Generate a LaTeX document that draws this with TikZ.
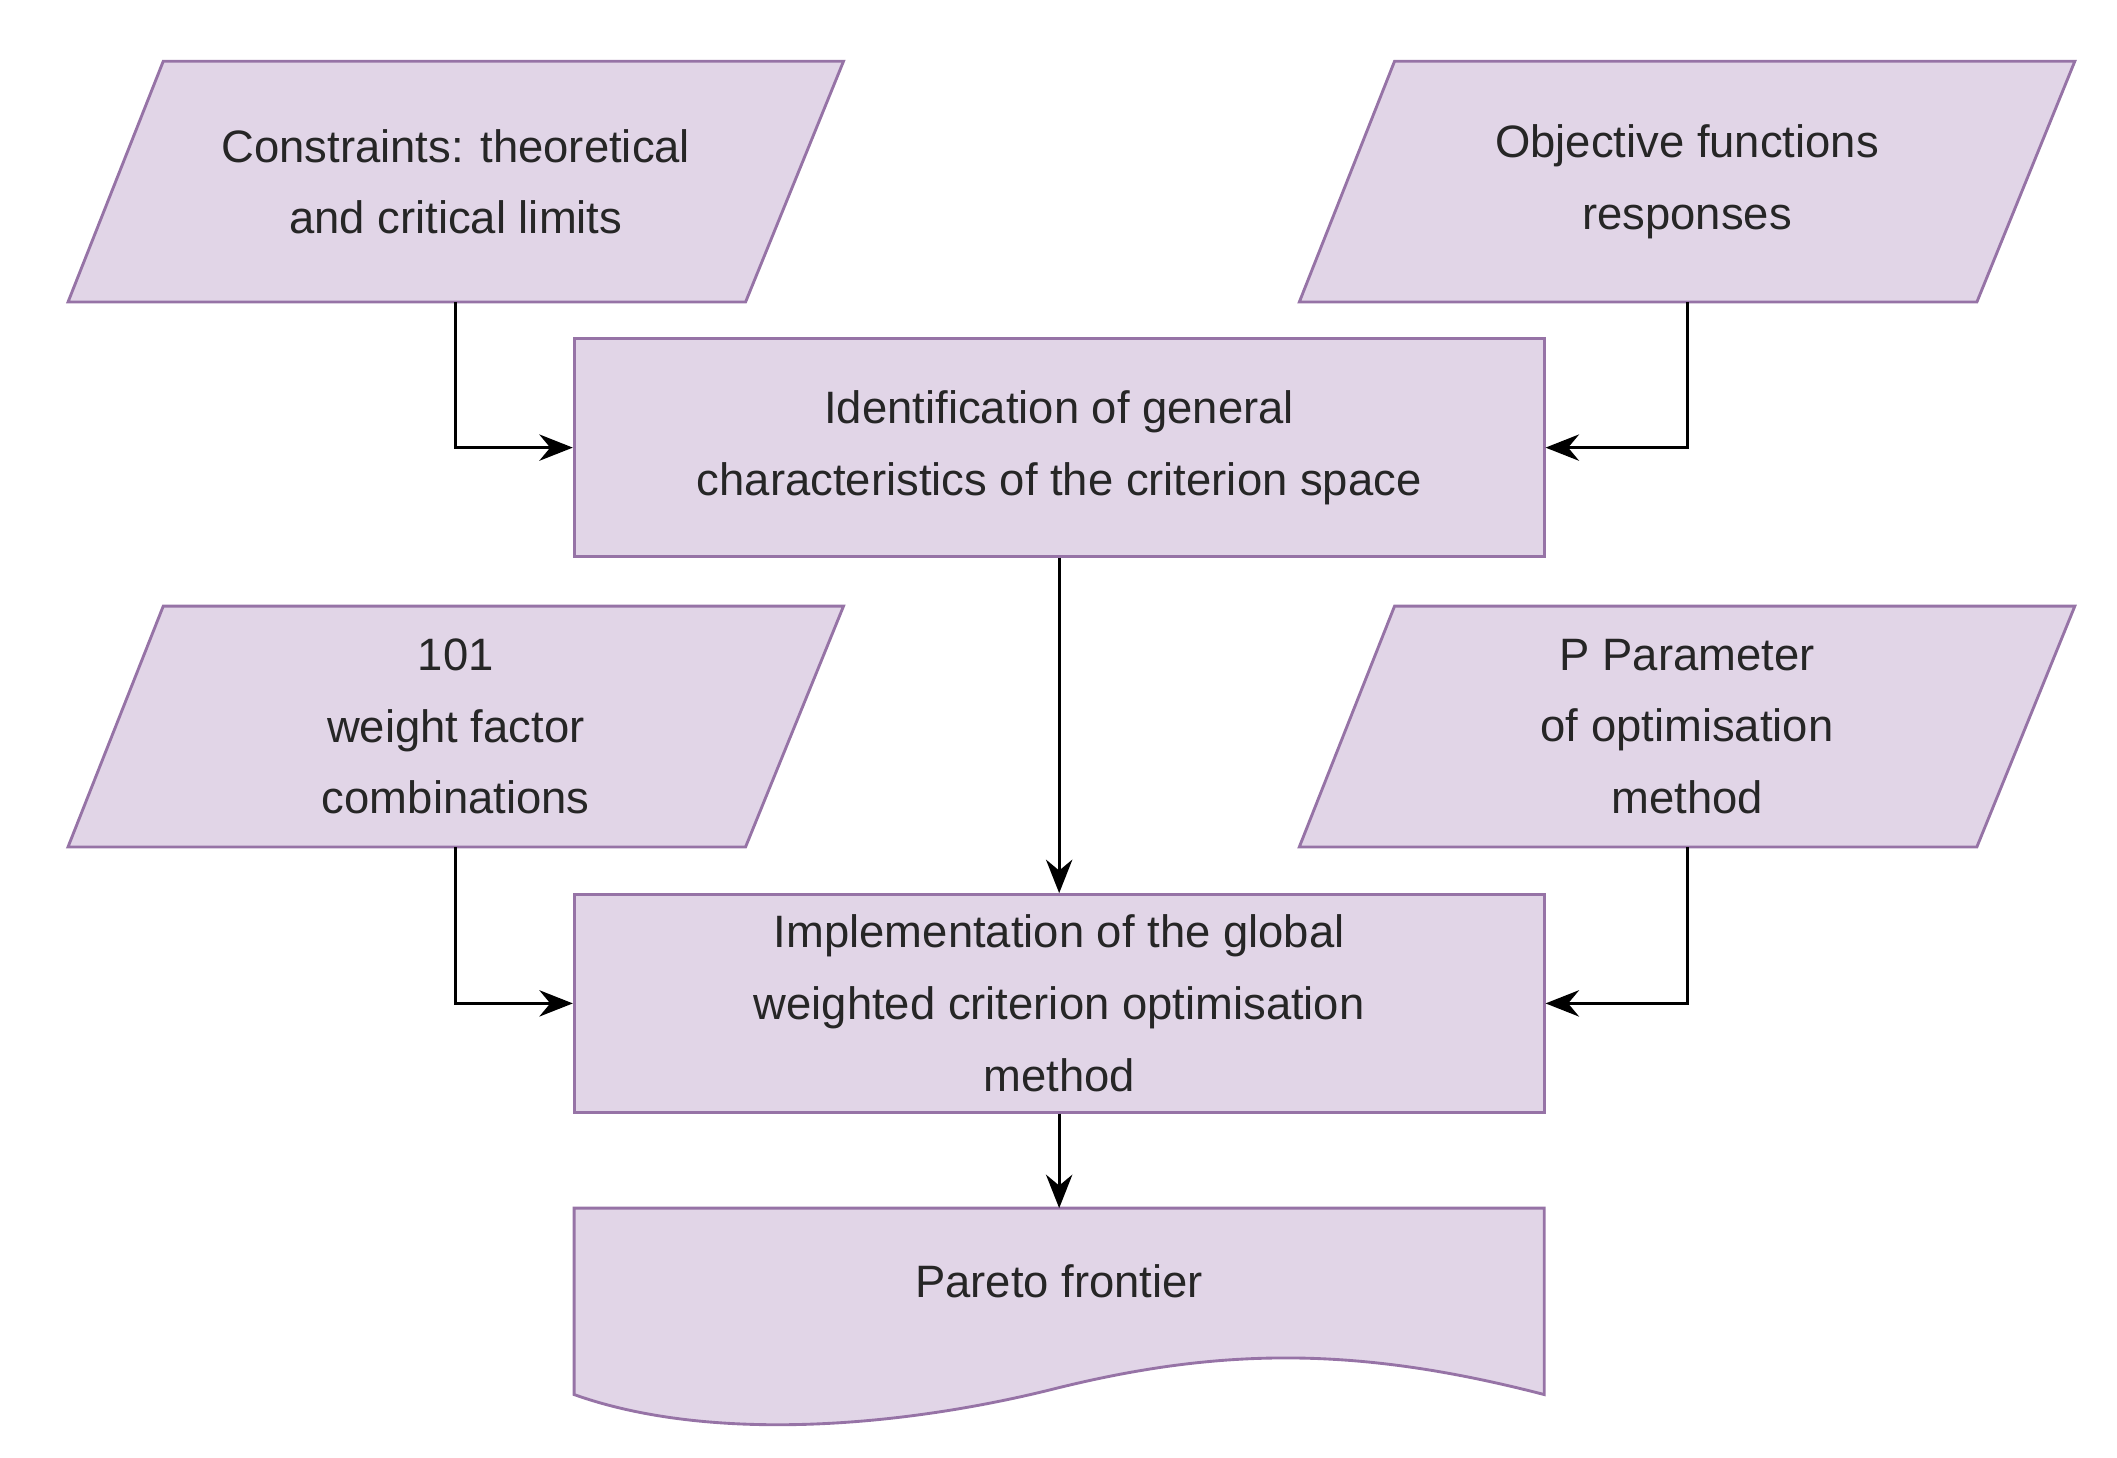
\documentclass[tikz,border=0pt]{standalone}
\usepackage{fontspec}
\setmainfont{Liberation Sans}
\usetikzlibrary{arrows.meta,calc}
\definecolor{pfill}{HTML}{E1D5E7}
\definecolor{pline}{HTML}{9673A6}
\tikzset{
  shp/.style={fill=pfill,draw=pline,line width=1.2pt},
  txt/.style={align=center,font=\fontsize{19}{30}\selectfont,text=black!85},
  box/.style={shp,txt,minimum width=14.26cm,minimum height=3.2cm,inner sep=0pt},
  arr/.style={-{Stealth[length=14pt,width=11pt]},line width=1.3pt,black}
}
\newcommand{\mypara}[4]{%
  \draw[shp] (#2-215,#3-88.5) -- (#2+285,#3-88.5) -- (#2+213,#3+88.5) -- (#2-285,#3+88.5) -- cycle;
  \node[txt,inner sep=0pt,minimum width=9cm,minimum height=3.54cm] (#1) at (#2,#3) {#4};}
\begin{document}
\begin{tikzpicture}[x=0.02cm,y=-0.02cm]
\useasboundingbox (0,0) rectangle (1556,1071);
\mypara{p1}{335}{133.5}{Constraints: theoretical\\and critical limits}
\mypara{p2}{1240}{133.5}{Objective functions\\responses}
\mypara{p3}{335}{534}{101\\weight factor\\combinations}
\mypara{p4}{1240}{534}{P Parameter\\of optimisation\\method}
\node[box] (b1) at (778.5,329) {Identification of general\\characteristics of the criterion space};
\node[box] (b2) at (778.5,737.5) {Implementation of the global\\weighted criterion optimisation\\method};
\draw[shp] (422,888) -- (1135,888) -- (1135,1025)
  .. controls (1000,990) and (900,990) .. (778,1020)
  .. controls (660,1050) and (520,1060) .. (422,1025) -- cycle;
\node[txt] (b3) at (778.5,942) {Pareto frontier};
\coordinate (b3t) at (778.5,888);
\draw[arr] (p1.south) |- (b1.west);
\draw[arr] (p2.south) |- (b1.east);
\draw[arr] (b1.south) -- (b2.north);
\draw[arr] (p3.south) |- (b2.west);
\draw[arr] (p4.south) |- (b2.east);
\draw[arr] (b2.south) -- (b3t);
\end{tikzpicture}
\end{document}
